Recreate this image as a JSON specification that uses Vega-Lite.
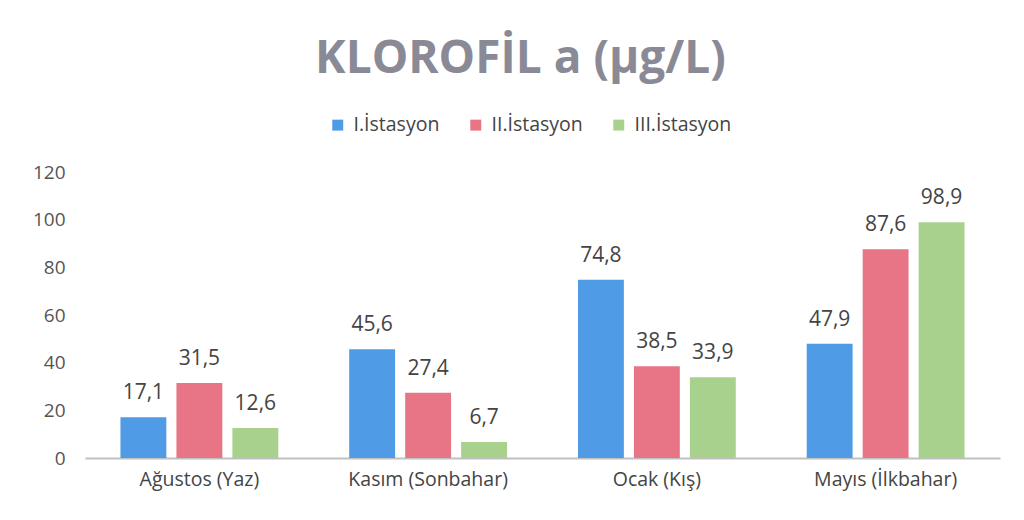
{
  "$schema": "https://vega.github.io/schema/vega-lite/v6.json",
  "autosize": {"type": "none"},
  "width": 915,
  "height": 286,
  "padding": {"left": 85, "top": 172, "right": 24, "bottom": 62},
  "background": "white",
  "config": {
    "view": {"stroke": null},
    "font": "Open Sans",
    "locale": {"number": {"decimal": ",", "thousands": ".", "grouping": [3], "currency": ["", " TL"]}}
  },
  "title": {
    "text": "KLOROFİL a (µg/L)",
    "fontSize": 46,
    "fontWeight": "bold",
    "color": "#8a8a96",
    "anchor": "middle",
    "frame": "group",
    "offset": 32,
    "dx": -22
  },
  "data": {
    "values": [
      {"ay": "Ağustos (Yaz)", "istasyon": "I.İstasyon", "deger": 17.1},
      {"ay": "Ağustos (Yaz)", "istasyon": "II.İstasyon", "deger": 31.5},
      {"ay": "Ağustos (Yaz)", "istasyon": "III.İstasyon", "deger": 12.6},
      {"ay": "Kasım (Sonbahar)", "istasyon": "I.İstasyon", "deger": 45.6},
      {"ay": "Kasım (Sonbahar)", "istasyon": "II.İstasyon", "deger": 27.4},
      {"ay": "Kasım (Sonbahar)", "istasyon": "III.İstasyon", "deger": 6.7},
      {"ay": "Ocak (Kış)", "istasyon": "I.İstasyon", "deger": 74.8},
      {"ay": "Ocak (Kış)", "istasyon": "II.İstasyon", "deger": 38.5},
      {"ay": "Ocak (Kış)", "istasyon": "III.İstasyon", "deger": 33.9},
      {"ay": "Mayıs (İlkbahar)", "istasyon": "I.İstasyon", "deger": 47.9},
      {"ay": "Mayıs (İlkbahar)", "istasyon": "II.İstasyon", "deger": 87.6},
      {"ay": "Mayıs (İlkbahar)", "istasyon": "III.İstasyon", "deger": 98.9}
    ]
  },
  "encoding": {
    "x": {
      "field": "ay", "type": "nominal", "sort": null,
      "scale": {"paddingInner": 0.31, "paddingOuter": 0.155},
      "axis": {"title": null, "labelAngle": 0, "labelFontSize": 19.5, "labelColor": "#444", "domainColor": "#c0c0c0", "domainWidth": 2, "ticks": false, "labelPadding": 12}
    },
    "xOffset": {"field": "istasyon", "type": "nominal", "sort": null, "scale": {"paddingInner": 0.18}},
    "y": {
      "field": "deger", "type": "quantitative",
      "scale": {"domain": [0, 120]},
      "axis": {"title": null, "values": [0, 20, 40, 60, 80, 100, 120], "grid": false, "domain": false, "ticks": false, "labelFontSize": 19, "labelColor": "#555", "labelPadding": 20, "format": "d"}
    }
  },
  "layer": [
    {
      "mark": {"type": "bar"},
      "encoding": {
        "color": {
          "field": "istasyon", "type": "nominal", "sort": null,
          "scale": {"domain": ["I.İstasyon", "II.İstasyon", "III.İstasyon"], "range": ["#4f9be6", "#e87585", "#a9d18e"]},
          "legend": {"title": null, "orient": "none", "direction": "horizontal", "legendX": 243, "legendY": -57, "labelFontSize": 19.5, "labelColor": "#444", "symbolType": "square", "symbolSize": 120, "columnPadding": 26, "labelOffset": 6}
        }
      }
    },
    {
      "mark": {"type": "text", "baseline": "bottom", "dy": -14, "fontSize": 21, "color": "#444"},
      "encoding": {"text": {"field": "deger", "type": "quantitative", "format": ".1f"}}
    }
  ]
}
